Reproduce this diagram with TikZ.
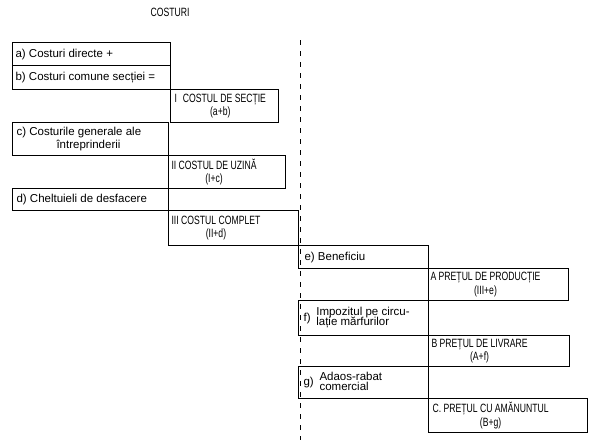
\documentclass[tikz,border=0pt]{standalone}
\usepackage{fontspec}
\setmainfont{Liberation Sans}
\newfontfamily\narrowfont{Liberation Sans}[FakeStretch=0.72]
\usetikzlibrary{positioning}

\begin{document}
\begin{tikzpicture}[x=1pt,y=-1pt,line width=1.1pt,
  cell/.style={draw, rectangle, anchor=north west, inner sep=0pt},
  txt/.style={inner sep=0pt, font=\fontsize{11.5}{13}\selectfont, align=left},
  head/.style={inner sep=0pt, font=\narrowfont\fontsize{12}{13.5}\selectfont, align=center},
  ]

  \useasboundingbox (0,0) rectangle (597,442);

  % title
  \node[head] (title) at (170,12) {COSTURI};

  % cost elements a) ... d), left column
  \node[cell, minimum width=158, minimum height=23] (a) at (12,42) {};
  \node[txt, right=3pt of a.west] (ta) {a) Costuri directe +};

  \node[cell, minimum width=158, minimum height=24] (b) at (12,65) {};
  \node[txt, right=3pt of b.west] (tb) {b) Costuri comune secției =};

  \node[cell, minimum width=156, minimum height=33] (c) at (12,122) {};
  \node[txt, right=4pt of c.west] (tc) {c) Costurile generale ale\\\hspace*{40pt}întreprinderii};

  \node[cell, minimum width=156, minimum height=22] (d) at (12,188) {};
  \node[txt, right=4pt of d.west] (td) {d) Cheltuieli de desfacere};

  % cost levels I ... III
  \node[cell, minimum width=108, minimum height=33] (I) at (170,89) {};
  \node[head, right=4pt of I.west] (tI) {I\enspace COSTUL DE SECȚIE\\(a+b)};

  \node[cell, minimum width=117, minimum height=33] (II) at (168,155) {};
  \node[head, right=3pt of II.west] (tII) {II COSTUL DE UZINĂ\\(I+c)};

  \node[cell, minimum width=130, minimum height=35] (III) at (168,210) {};
  \node[head, right=3pt of III.west] (tIII) {III COSTUL COMPLET\\(II+d)};

  % additions e) ... g)
  \node[cell, minimum width=130, minimum height=23] (e) at (298,245) {};
  \node[txt, right=6pt of e.west] (te) {e) Beneficiu};

  \node[cell, minimum width=130, minimum height=35] (f) at (298,300) {};
  \node[txt, right=5pt of f.west] (tf) {f)\enspace\begin{tabular}[c]{@{}l@{}}Impozitul pe circu-\\[-3pt]lație mărfurilor\end{tabular}};

  \node[cell, minimum width=130, minimum height=32] (g) at (298,366) {};
  \node[txt, right=5pt of g.west] (tg) {g)\enspace\begin{tabular}[c]{@{}l@{}}Adaos-rabat\\[-3pt]comercial\end{tabular}};

  % prices A ... C
  \node[cell, minimum width=140, minimum height=32] (A) at (428,268) {};
  \node[head, right=2pt of A.west] (tA) {A PREȚUL DE PRODUCȚIE\\(III+e)};

  \node[cell, minimum width=141, minimum height=31] (B) at (428,335) {};
  \node[head, right=3pt of B.west] (tB) {B PREȚUL DE LIVRARE\\(A+f)};

  \node[cell, minimum width=159, minimum height=34] (C) at (428,398) {};
  \node[head, right=4pt of C.west] (tC) {C. PREȚUL CU AMĂNUNTUL\\(B+g)};

  % dividing line
  \coordinate (dtop) at (300,40);
  \coordinate (dbot) at (300,440);
  \draw[line width=0.8pt, dash pattern=on 5pt off 6pt] (dtop) -- (dbot);

\end{tikzpicture}
\end{document}
